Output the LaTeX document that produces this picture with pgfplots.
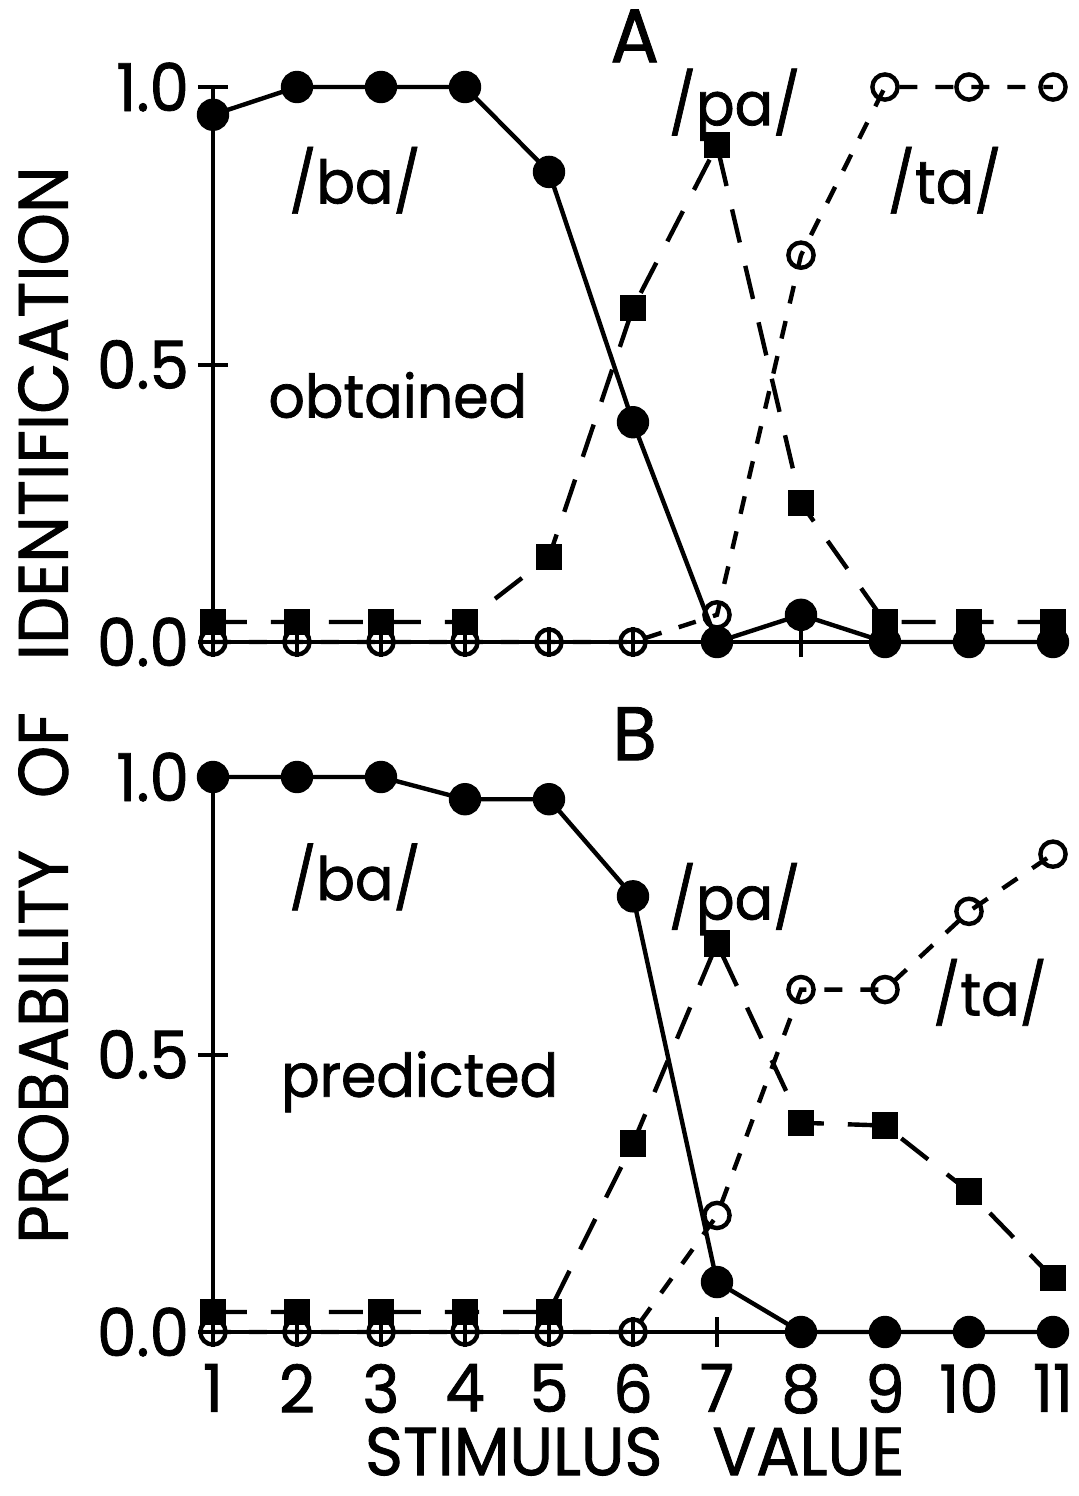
\documentclass[border=0pt]{standalone}
\usepackage{pgfplots}
\pgfplotsset{compat=1.18}
\usepackage{fontspec}
\setmainfont{Poppins}[FakeStretch=0.95, FakeBold=1.2]

\newcommand{\lab}{\fontsize{30}{30}\selectfont}
\newcommand{\ticklab}{\fontsize{33}{33}\selectfont}
\newcommand{\panellab}{\fontsize{38}{38}\selectfont}
\newcommand{\biglab}{\fontsize{35}{35}\selectfont}
\newcommand{\xlab}{\fontsize{34}{34}\selectfont}

\pgfplotsset{
  panel/.style={
    scale only axis, width=420pt, height=277.5pt,
    xmin=1, xmax=11, ymin=0, ymax=1,
    axis x line=bottom, axis y line=left,
    axis line style={-, line width=2pt, black},
    xtick={1,...,11}, ytick={0,0.5,1},
    yticklabels={0.0,0.5,1.0},
    tick align=center, major tick length=15pt,
    tick style={line width=2pt, black},
    clip=false,
    ticklabel style={font=\ticklab},
    /pgf/number format/assume math mode=true,
    yticklabel style={xshift=-1pt},
    xticklabel style={yshift=-5pt},
  },
  ba/.style={black, line width=2.2pt, mark=*, mark size=7pt, mark options={solid, fill=black}},
  pa/.style={black, line width=2.2pt, dash pattern=on 17pt off 12pt, mark=square*, mark size=5.5pt, mark options={solid, fill=black}},
  ta/.style={black, line width=2.2pt, dash pattern=on 9pt off 9pt, mark=o, mark size=6.3pt, mark options={solid, fill=white, line width=2.2pt}},
}

\begin{document}
\begin{tikzpicture}
\useasboundingbox (-106.5pt,-427pt) rectangle (432.5pt,321pt);

% Panel A: obtained identification
\begin{axis}[panel, xticklabels={}]
\addplot[ta] coordinates {(1,0) (2,0) (3,0) (4,0) (5,0) (6,0) (7,0.049) (8,0.697) (9,1) (10,1) (11,1)};
\addplot[pa] coordinates {(1,0.036) (2,0.036) (3,0.036) (4,0.036) (5,0.153) (6,0.602) (7,0.895) (8,0.25) (9,0.036) (10,0.036) (11,0.036)};
\addplot[ba] coordinates {(1,0.95) (2,1) (3,1) (4,1) (5,0.847) (6,0.396) (7,0) (8,0.049) (9,0) (10,0) (11,0)};
\node[font=\panellab] at (axis cs:6.02,1.092) {A};
\node[font=\lab] at (axis cs:2.69,0.832) {/ba/};
\node[font=\lab] at (axis cs:7.21,0.968) {/pa/};
\node[font=\lab] at (axis cs:9.71,0.832) {/ta/};
\node[font=\lab] at (axis cs:3.20,0.445) {obtained};
\node[font=\biglab, rotate=90] at (axis cs:-1.02,-0.1135) {PROBABILITY\hspace{26pt}OF\hspace{26pt}IDENTIFICATION};
\end{axis}

% Panel B: predicted identification
\begin{axis}[panel, at={(0pt,-345pt)}, xticklabels={1,2,3,4,5,6,7,8,9,10,11}]
\addplot[ta] coordinates {(1,0) (2,0) (3,0) (4,0) (5,0) (6,0) (7,0.21) (8,0.617) (9,0.617) (10,0.758) (11,0.861)};
\addplot[pa] coordinates {(1,0.036) (2,0.036) (3,0.036) (4,0.036) (5,0.036) (6,0.34) (7,0.70) (8,0.377) (9,0.372) (10,0.253) (11,0.097)};
\addplot[ba] coordinates {(1,1) (2,1) (3,1) (4,0.96) (5,0.96) (6,0.785) (7,0.09) (8,0) (9,0) (10,0) (11,0)};
\node[font=\panellab] at (axis cs:6.02,1.078) {B};
\node[font=\lab] at (axis cs:2.69,0.82) {/ba/};
\node[font=\lab] at (axis cs:7.21,0.78) {/pa/};
\node[font=\lab] at (axis cs:10.25,0.612) {/ta/};
\node[font=\lab] at (axis cs:3.46,0.451) {predicted};
\node[font=\xlab, anchor=base, inner sep=0pt] at (axis cs:6.02,-0.258) {STIMULUS\hspace{25pt}VALUE};
\end{axis}
\end{tikzpicture}
\end{document}
